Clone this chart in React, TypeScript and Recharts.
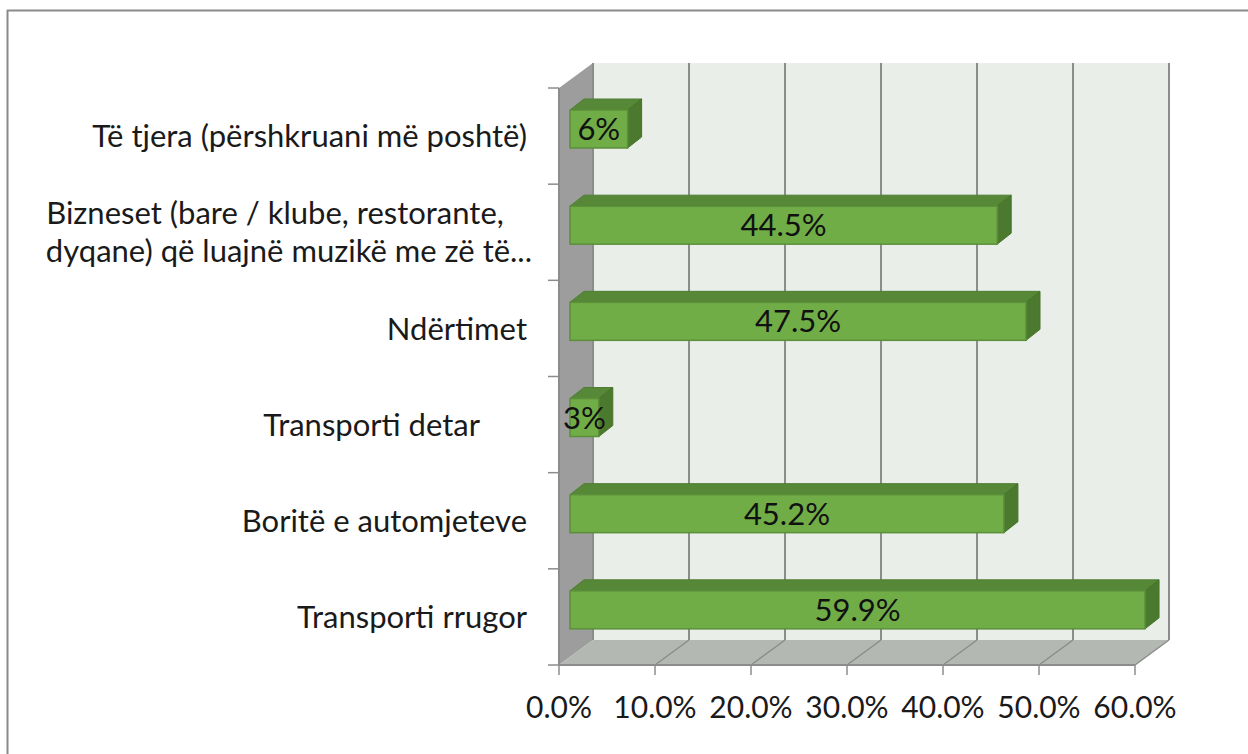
import React from "react";
import { BarChart, Bar, XAxis, YAxis, LabelList } from "recharts";

// top to bottom, as shown in the chart
const categories = [
  "Të tjera (përshkruani më poshtë)",
  "Bizneset (bare / klube, restorante, dyqane) që luajnë muzikë me zë të lartë",
  "Ndërtimet",
  "Transporti detar",
  "Boritë e automjeteve",
  "Transporti rrugor",
];
const values = [0.06, 0.445, 0.475, 0.03, 0.452, 0.599];
const valueLabels = ["6%", "44.5%", "47.5%", "3%", "45.2%", "59.9%"];
const xTicks = [0, 0.1, 0.2, 0.3, 0.4, 0.5, 0.6];

// how each category label is printed on the axis
const categoryLines: Record<string, string[]> = {
  [categories[1]]: ["Bizneset (bare / klube, restorante,", "dyqane) që luajnë muzikë me zë të..."],
  [categories[3]]: ["Transporti detar\u00a0\u00a0\u00a0\u00a0\u00a0\u00a0"],
};

const data = categories.map((name, i) => ({ name, value: values[i], label: valueLabels[i] }));

const W = 1248;
const H = 754;
const LEFT = 559;
const RIGHT = 1135;
const TOP = 88;
const BOTTOM = 665;
const DX = 34; // depth of the walls
const DY = -25;
const BAR_OFF_X = 11; // bars sit a bit inside the depth
const BAR_OFF_Y = -7;
const BAR_DX = 14;
const BAR_DY = -11;
const FONT = "Lato, 'Open Sans', sans-serif";
const TEXT = "#1a1a1a";
const LINE = "#8c8c8c";
const CAT_SIZE = 31;

const xMax = xTicks[xTicks.length - 1];
const frontX = (v: number) => LEFT + (v / xMax) * (RIGHT - LEFT);

function Backdrop() {
  const band = (BOTTOM - TOP) / categories.length;
  return (
    <svg width={W} height={H} style={{ position: "absolute", left: 0, top: 0 }}>
      <line x1={7.5} y1={10} x2={7.5} y2={H} stroke="#8a8a8a" strokeWidth={2} />
      <line x1={7} y1={10.5} x2={W} y2={10.5} stroke="#8a8a8a" strokeWidth={2} />
      {/* back wall */}
      <rect x={LEFT + DX} y={TOP + DY} width={RIGHT - LEFT} height={BOTTOM - TOP} fill="#e9eee8" />
      {/* side wall */}
      <polygon
        points={`${LEFT},${TOP} ${LEFT + DX},${TOP + DY} ${LEFT + DX},${BOTTOM + DY} ${LEFT},${BOTTOM}`}
        fill="#9c9d9c"
      />
      {/* floor */}
      <polygon
        points={`${LEFT},${BOTTOM} ${LEFT + DX},${BOTTOM + DY} ${RIGHT + DX},${BOTTOM + DY} ${RIGHT},${BOTTOM}`}
        fill="#b4b8b2"
      />
      {xTicks.map((t) => (
        <g key={t}>
          <line x1={frontX(t) + DX} y1={TOP + DY} x2={frontX(t) + DX} y2={BOTTOM + DY} stroke={LINE} strokeWidth={2} />
          {t > 0 && (
            <line x1={frontX(t)} y1={BOTTOM} x2={frontX(t) + DX} y2={BOTTOM + DY} stroke={LINE} strokeWidth={1.5} />
          )}
        </g>
      ))}
      {categories.concat([""]).map((_, i) => (
        <line key={i} x1={548} y1={TOP + i * band} x2={LEFT} y2={TOP + i * band} stroke={LINE} strokeWidth={1.5} />
      ))}
    </svg>
  );
}

function Bar3D(props: any) {
  const { x, y, width, height } = props;
  if (width == null || height == null) return null;
  const fx = x + BAR_OFF_X;
  const fy = y + BAR_OFF_Y;
  const w = Math.max(width, 0);
  return (
    <g>
      <polygon
        points={`${fx},${fy} ${fx + BAR_DX},${fy + BAR_DY} ${fx + w + BAR_DX},${fy + BAR_DY} ${fx + w},${fy}`}
        fill="#578838"
        stroke="#4f7d32"
        strokeWidth={1}
      />
      <polygon
        points={`${fx + w},${fy} ${fx + w + BAR_DX},${fy + BAR_DY} ${fx + w + BAR_DX},${fy + height + BAR_DY} ${fx + w},${fy + height}`}
        fill="#4b7a2e"
        stroke="#46722a"
        strokeWidth={1}
      />
      <rect x={fx} y={fy} width={w} height={height} fill="#70ad47" stroke="#5b8f3a" strokeWidth={1.5} />
    </g>
  );
}

function ValueLabel(props: any) {
  const { x, y, width, height, value } = props;
  return (
    <text
      x={x + BAR_OFF_X + width / 2}
      y={y + BAR_OFF_Y + height / 2}
      dy="0.36em"
      textAnchor="middle"
      fontFamily={FONT}
      fontSize={31}
      fill="#111"
    >
      {value}
    </text>
  );
}

function CategoryTick(props: any) {
  const { y, payload } = props;
  const lines = categoryLines[payload.value] || [payload.value];
  if (lines.length === 1) {
    return (
      <text x={527} y={y} dy="0.36em" textAnchor="end" fontFamily={FONT} fontSize={CAT_SIZE} fill={TEXT} style={{ whiteSpace: "pre" }}>
        {lines[0]}
      </text>
    );
  }
  return (
    <g>
      <text x={275} y={y - 19} dy="0.36em" textAnchor="middle" fontFamily={FONT} fontSize={CAT_SIZE} fill={TEXT}>
        {lines[0]}
      </text>
      <text x={532} y={y + 19} dy="0.36em" textAnchor="end" fontFamily={FONT} fontSize={CAT_SIZE} fill={TEXT}>
        {lines[1]}
      </text>
    </g>
  );
}

function PercentTick(props: any) {
  const { x, payload } = props;
  return (
    <text x={x} y={BOTTOM + 53} textAnchor="middle" fontFamily={FONT} fontSize={30} fill={TEXT}>
      {(payload.value * 100).toFixed(1) + "%"}
    </text>
  );
}

export default function App() {
  return (
    <div style={{ position: "absolute", left: 0, top: 0, width: W, height: H, background: "#fff" }}>
      <Backdrop />
      <div style={{ position: "absolute", left: 0, top: 0 }}>
        <BarChart
          width={W}
          height={H}
          data={data}
          layout="vertical"
          margin={{ top: TOP, right: W - RIGHT, bottom: H - BOTTOM - 60, left: LEFT - 520 }}
        >
          <XAxis
            type="number"
            domain={[0, xMax]}
            ticks={xTicks}
            height={60}
            tickSize={10}
            axisLine={{ stroke: LINE, strokeWidth: 2 }}
            tickLine={{ stroke: LINE, strokeWidth: 1.5 }}
            tick={<PercentTick />}
            interval={0}
          />
          <YAxis
            type="category"
            dataKey="name"
            width={520}
            axisLine={{ stroke: LINE, strokeWidth: 2 }}
            tickLine={false}
            tick={<CategoryTick />}
            interval={0}
          />
          <Bar dataKey="value" barSize={38} shape={<Bar3D />} isAnimationActive={false}>
            <LabelList dataKey="label" content={<ValueLabel />} />
          </Bar>
        </BarChart>
      </div>
    </div>
  );
}
